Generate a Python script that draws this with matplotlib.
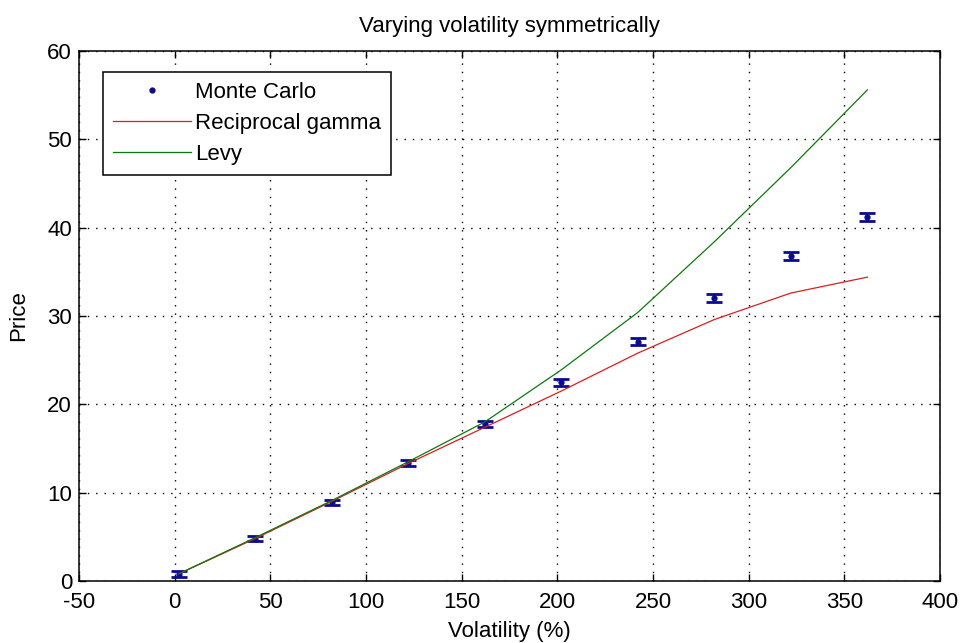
import matplotlib.pyplot as plt

# volatility grid (%)
vol = [2, 42, 82, 122, 162, 202, 242, 282, 322, 362]

# Monte Carlo estimate with its standard error
mc_price = [0.8, 4.8, 8.9, 13.4, 17.8, 22.5, 27.1, 32.0, 36.8, 41.2]
mc_err = [0.3, 0.3, 0.3, 0.35, 0.35, 0.4, 0.4, 0.45, 0.45, 0.5]

# closed-form approximations
recip_gamma = [0.8, 4.8, 9.0, 13.3, 17.4, 21.5, 25.8, 29.6, 32.6, 34.4]
levy = [0.8, 4.9, 9.1, 13.5, 18.0, 23.9, 30.4, 38.4, 46.8, 55.6]

plt.rcParams['font.family'] = ['Liberation Sans', 'DejaVu Sans']
plt.rcParams['font.size'] = 16
plt.rcParams['axes.unicode_minus'] = False

fig = plt.figure(figsize=(9.6, 6.43), dpi=100)
ax = fig.add_axes([0.0823, 0.0964, 0.897, 0.8243])

mc_col = '#0a0a96'
# error bars drawn without a label, the dots carry the legend entry
ax.errorbar(vol, mc_price, yerr=mc_err, fmt='none', ecolor=mc_col,
            capsize=6, capthick=2, elinewidth=1.5)
ax.plot(vol, mc_price, '.', color=mc_col, markersize=7, label='Monte Carlo')
ax.plot(vol, recip_gamma, color='#dd1c1c', lw=0.9, label='Reciprocal gamma')
ax.plot(vol, levy, color='#0a7a0a', lw=0.9, label='Levy')

ax.set_xlim(-50, 400)
ax.set_ylim(0, 60)
ax.set_xticks(range(-50, 401, 50))
ax.set_yticks(range(0, 61, 10))

ax.grid(True, color='black', linestyle=(0, (1, 5)), linewidth=1.0)
ax.tick_params(direction='in', top=True, right=True, length=5, width=1,
               labelsize=16)
ax.tick_params(axis='x', pad=8)
ax.tick_params(axis='y', pad=5)
for s in ax.spines.values():
    s.set_linewidth(1.1)

ax.set_title('Varying volatility symmetrically', fontsize=16, pad=14)
ax.set_xlabel('Volatility (%)', fontsize=16, labelpad=6)
ax.set_ylabel('Price', fontsize=16, labelpad=13)

leg = ax.legend(loc='upper left', bbox_to_anchor=(0.028, 0.96),
                borderaxespad=0, handlelength=3.5, handletextpad=0.2,
                labelspacing=0.45, borderpad=0.45, fancybox=False,
                framealpha=1, edgecolor='black', fontsize=16)
leg.get_frame().set_linewidth(1.1)

fig.savefig('out.png', dpi=100, facecolor='white')
